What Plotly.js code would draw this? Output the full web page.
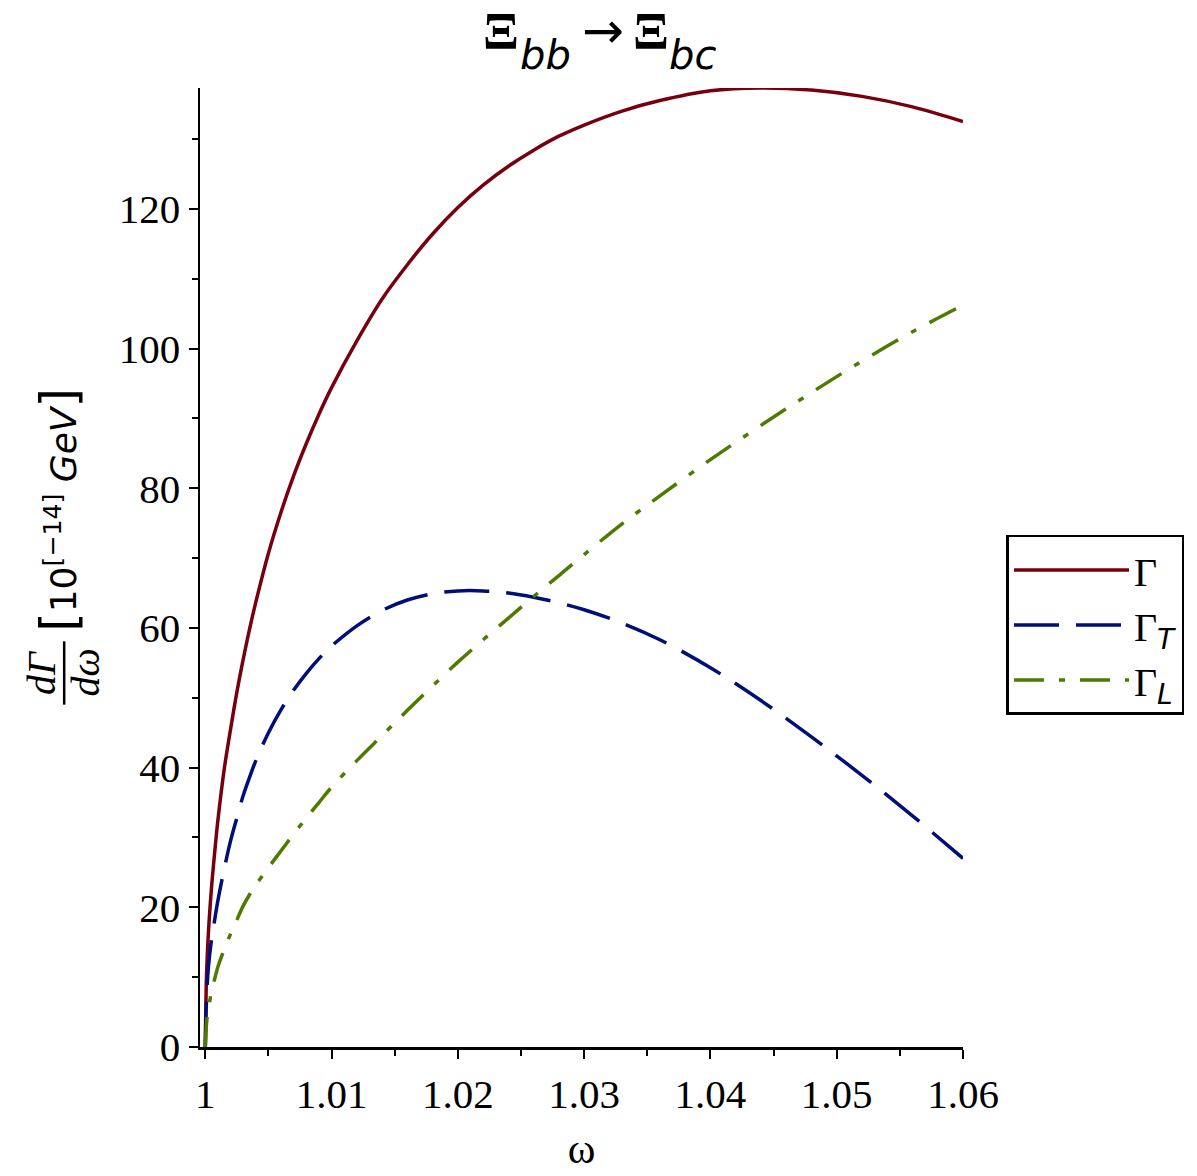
<!DOCTYPE html>
<html>
<head>
<meta charset="utf-8">
<script src="https://cdn.plot.ly/plotly-3.0.1.min.js"></script>
<style>
  body { margin: 0; background: #fff; }
  #chart { width: 1197px; height: 1176px; }
</style>
</head>
<body>
<div id="chart"></div>
<script>
// omega grid and the three decay-rate curves (units 10^-14 GeV)
const omega = [
  1, 1.0001, 1.00025, 1.0005, 1.00075, 1.001, 1.0015, 1.002, 1.0025, 1.003,
  1.0035, 1.004, 1.005, 1.006, 1.007, 1.008, 1.009, 1.010, 1.012, 1.014,
  1.016, 1.018, 1.020, 1.022, 1.024, 1.026, 1.028, 1.030, 1.033, 1.036,
  1.040, 1.044, 1.048, 1.052, 1.056, 1.060,
];
const gammaTotal = [
  0, 10.5, 16.5, 23, 28, 32.5, 39.8, 45.5, 50.8, 55.5,
  59.8, 63.7, 70.7, 76.6, 81.8, 86.4, 90.6, 94.4, 101.1, 107.1,
  112.0, 116.4, 120.2, 123.4, 126.1, 128.4, 130.4, 132.0, 134.0, 135.5,
  136.9, 137.3, 137.0, 136.1, 134.6, 132.5,
];
const gammaT = [
  0, 7, 11.5, 15.5, 18.3, 21, 25.5, 29.5, 32.8, 36,
  38.6, 41.0, 45.0, 48.3, 51.1, 53.5, 55.6, 57.4, 60.3, 62.5,
  64.0, 64.9, 65.3, 65.3, 65.0, 64.4, 63.6, 62.6, 60.7, 58.3,
  54.3, 49.6, 44.4, 38.9, 33.1, 27.0,
];
const gammaL = [
  0, 3.5, 5.5, 8, 9.8, 11.5, 14, 16.2, 18.2, 20.2,
  21.8, 23.2, 25.7, 28.1, 30.5, 32.8, 35.0, 37.2, 41, 44.6,
  48.2, 51.7, 55.1, 58.3, 61.4, 64.5, 67.5, 70.5, 74.9, 78.9,
  84.1, 89, 93.7, 98.2, 102.4, 106.2,
];

const seriesNames = [
  'Γ',
  'Γ<sub><span style="font-family:DejaVu Sans;font-style:italic">T</span></sub>',
  'Γ<sub><span style="font-family:DejaVu Sans;font-style:italic">L</span></sub>',
];
const seriesColors = ['#78000e', '#000e78', '#4e7a00'];
const seriesDash = ['solid', '45px,17px', '30px,15px,6px,15px'];

const xTickVals = [1, 1.01, 1.02, 1.03, 1.04, 1.05, 1.06];
const xTickText = ['1', '1.01', '1.02', '1.03', '1.04', '1.05', '1.06'];
const yTickVals = [0, 20, 40, 60, 80, 100, 120];

const serif = 'Liberation Serif, Times New Roman, serif';
const sans = 'DejaVu Sans, sans-serif';

const traces = [gammaTotal, gammaT, gammaL].map((values, i) => ({
  x: omega,
  y: values,
  name: seriesNames[i],
  type: 'scatter',
  mode: 'lines',
  line: {
    color: seriesColors[i],
    width: 3.5,
    shape: 'spline',
    smoothing: 1,
    dash: seriesDash[i],
  },
}));

// title pieces: Xi symbols with large, deeply dropped subscripts
const xiFont = { family: 'Liberation Serif, serif', size: 53, weight: 'bold' };
const titleParts = [
  { text: 'Ξ', x: 0.394, y: 1.0915, anchor: 'top', font: xiFont },
  { text: '<i>bb</i>', x: 0.453, y: 1.034, anchor: 'middle', font: { family: sans, size: 40 } },
  { text: '→', x: 0.528, y: 1.0915, anchor: 'top', font: { family: sans, size: 50 } },
  { text: 'Ξ', x: 0.591, y: 1.0915, anchor: 'top', font: xiFont },
  { text: '<i>bc</i>', x: 0.646, y: 1.034, anchor: 'middle', font: { family: sans, size: 40 } },
];

const annotations = titleParts.map(p => ({
  xref: 'paper', yref: 'paper', x: p.x, y: p.y,
  xanchor: 'center', yanchor: p.anchor,
  text: p.text, showarrow: false,
  font: Object.assign({ color: '#000' }, p.font),
}));

// y-axis label: dΓ/dω as a stacked fraction, then the units
annotations.push(
  {
    xref: 'paper', yref: 'paper', x: -0.207, y: 0.39,
    xanchor: 'center', yanchor: 'middle',
    text: '<i>dΓ</i>', textangle: -90, showarrow: false,
    font: { family: serif, size: 40, color: '#000' },
  },
  {
    xref: 'paper', yref: 'paper', x: -0.15, y: 0.39,
    xanchor: 'center', yanchor: 'middle',
    text: '<i>dω</i>', textangle: -90, showarrow: false,
    font: { family: serif, size: 40, color: '#000' },
  },
  {
    xref: 'paper', yref: 'paper', x: -0.185, y: 0.56,
    xanchor: 'center', yanchor: 'middle',
    text: '<span style="font-size:50px">[</span>10<sup>[−14]</sup> <i>GeV</i><span style="font-size:50px">]</span>',
    textangle: -90, showarrow: false,
    font: { family: sans, size: 36, color: '#000' },
  },
);

const layout = {
  width: 1197,
  height: 1176,
  paper_bgcolor: '#fff',
  plot_bgcolor: '#fff',
  margin: { l: 200, r: 231, t: 88, b: 129 },
  showlegend: true,
  xaxis: {
    range: [0.99958, 1.06],
    showgrid: false,
    zeroline: false,
    showline: true,
    linecolor: '#000',
    linewidth: 2.5,
    ticks: 'outside',
    ticklen: 9,
    tickwidth: 2,
    tickcolor: '#000',
    tickmode: 'array',
    tickvals: xTickVals,
    ticktext: xTickText,
    tickfont: { family: serif, size: 41, color: '#000' },
    minor: {
      tickmode: 'linear',
      tick0: 1.005,
      dtick: 0.01,
      ticks: 'outside',
      ticklen: 6,
      tickwidth: 2,
      tickcolor: '#000',
      showgrid: false,
    },
    title: {
      text: 'ω',
      font: { family: serif, size: 42, color: '#000' },
      standoff: 18,
    },
  },
  yaxis: {
    range: [0, 137.3],
    showgrid: false,
    zeroline: false,
    showline: true,
    linecolor: '#000',
    linewidth: 2.5,
    ticks: 'outside',
    ticklen: 9,
    tickwidth: 2,
    tickcolor: '#000',
    tickmode: 'array',
    tickvals: yTickVals,
    tickfont: { family: serif, size: 41, color: '#000' },
    minor: {
      tickmode: 'linear',
      tick0: 10,
      dtick: 20,
      ticks: 'outside',
      ticklen: 6,
      tickwidth: 2,
      tickcolor: '#000',
      showgrid: false,
    },
  },
  legend: {
    x: 1.057,
    xanchor: 'left',
    y: 0.534,
    yanchor: 'top',
    bordercolor: '#000',
    borderwidth: 2.5,
    bgcolor: '#fff',
    font: { family: serif, size: 40, color: '#000' },
    itemwidth: 115,
    tracegroupgap: 0,
  },
  annotations,
  shapes: [
    {
      type: 'line', xref: 'paper', yref: 'paper',
      x0: -0.178, x1: -0.178, y0: 0.357, y1: 0.423,
      line: { color: '#000', width: 2.5 },
    },
  ],
};

Plotly.newPlot('chart', traces, layout, { displayModeBar: false, staticPlot: true });
</script>
</body>
</html>
